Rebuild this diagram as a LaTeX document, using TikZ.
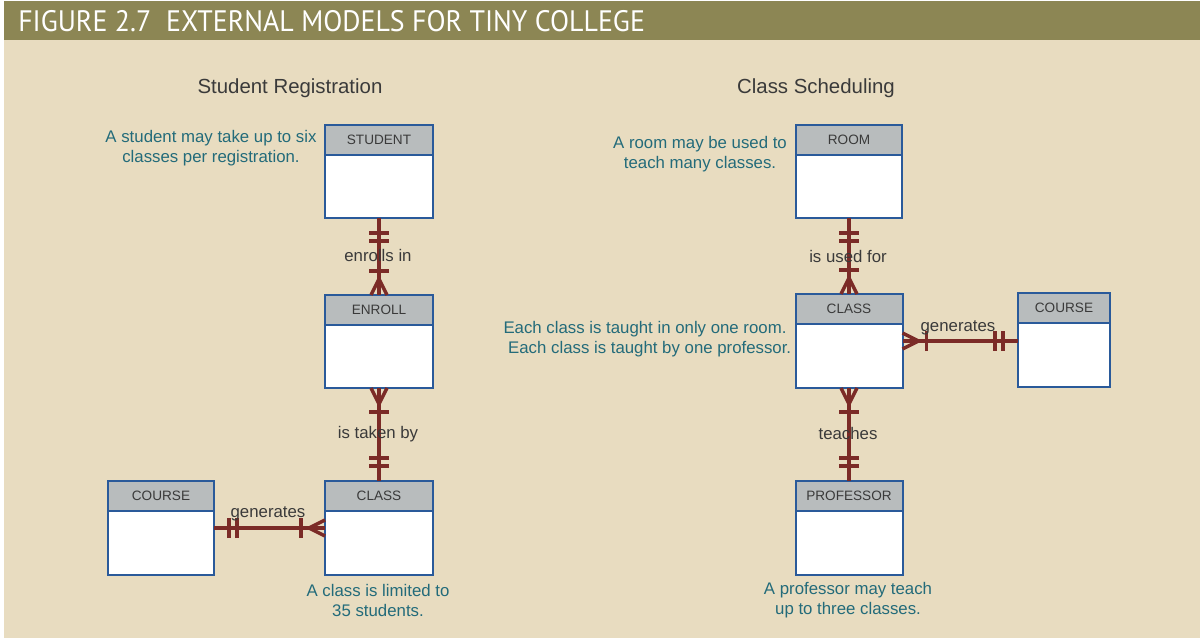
\documentclass[tikz,border=0pt]{standalone}
\usepackage{fontspec}
\setmainfont{Liberation Sans}
\newfontfamily\hdrfont{PT Sans}
\usetikzlibrary{calc}
\definecolor{band}{HTML}{8C8654}
\definecolor{beige}{HTML}{E8DCC0}
\definecolor{hdrgray}{HTML}{B8BCBD}
\definecolor{entblue}{HTML}{2A5A9A}
\definecolor{relred}{HTML}{7B2B27}
\definecolor{noteteal}{HTML}{236B7A}
\definecolor{txtgray}{HTML}{3A3A3A}
\tikzset{
  entbox/.style={draw=entblue, line width=1.5pt, fill=white, inner sep=0pt, outer sep=0pt},
  entname/.style={text=txtgray, font=\fontsize{10.2}{12}\selectfont, inner sep=0pt},
  rel/.style={draw=relred, line width=2.4pt},
  relmark/.style={draw=relred, line width=2.6pt},
  rellab/.style={text=txtgray, font=\fontsize{12.6}{15}\selectfont, inner sep=1pt},
  note/.style={text=noteteal, font=\fontsize{12.6}{15}\selectfont, align=center, inner sep=0pt},
  secttitle/.style={text=txtgray, font=\fontsize{15.3}{18}\selectfont, inner sep=0pt}
}
% entity: name, cx, cy, w, h, label
\newcommand\ent[6]{%
  \node[entbox, minimum width=#4*0.75pt, minimum height=#5*0.75pt] (#1) at (#2,#3) {};
  \fill[hdrgray] (#1.north west) rectangle ($(#1.north east)+(0,30)$);
  \draw[entblue, line width=1.5pt] ($(#1.north west)+(0,30)$) -- ($(#1.north east)+(0,30)$);
  \draw[entblue, line width=1.5pt] (#1.north west) rectangle (#1.south east);
  \node[entname] (#1-t) at ($(#1.north)+(0,15)$) {#6};
}
% bar across the connector: anchor, ux, uy, distance
\newcommand\mbar[4]{%
  \draw[relmark] ($(#1)+({#2*#4-#3*10},{#3*#4+#2*10})$) -- ($(#1)+({#2*#4+#3*10},{#3*#4-#2*10})$);}
% one and only one
\newcommand\oneone[3]{\mbar{#1}{#2}{#3}{15}\mbar{#1}{#2}{#3}{23}}
% one or many (crow's foot + bar)
\newcommand\onemany[3]{%
  \draw[relmark, line join=round] ($(#1)+({-#3*8},{#2*8})$) -- ($(#1)+({#2*16},{#3*16})$) -- ($(#1)+({#3*8},{-#2*8})$);
  \mbar{#1}{#2}{#3}{24}}
\begin{document}
\begin{tikzpicture}[x=0.75pt, y=-0.75pt]
\useasboundingbox (0,0) rectangle (1200,638);
\fill[white] (0,0) rectangle (1200,638);
\fill[beige] (4,40) rectangle (1200,638);
\fill[band] (4,1) rectangle (1200,40);
\node[anchor=base west, inner sep=0pt, text=white] (fig) at (18,32)
  {\resizebox{470pt}{15.8pt}{\hdrfont FIGURE 2.7\ \ EXTERNAL MODELS FOR TINY COLLEGE}};

\node[secttitle] (t1) at (290,88) {Student Registration};
\node[secttitle] (t2) at (816,88) {Class Scheduling};

% entities
\ent{student}{379}{171.5}{108}{93}{STUDENT}
\ent{enroll}{379}{341.5}{108}{93}{ENROLL}
\ent{lclass}{379}{528}{108}{94}{CLASS}
\ent{lcourse}{161}{528}{106}{94}{COURSE}
\ent{room}{849}{171.5}{106}{93}{ROOM}
\ent{rclass}{849}{341}{107}{94}{CLASS}
\ent{rcourse}{1064}{340}{92}{94}{COURSE}
\ent{prof}{849}{528}{107}{94}{PROFESSOR}

% relationships
\draw[rel] (student.south) -- (enroll.north);
\oneone{student.south}{0}{1}
\onemany{enroll.north}{0}{-1}
\node[rellab] (l1) at (378,255) {enrolls in};

\draw[rel] (enroll.south) -- (lclass.north);
\onemany{enroll.south}{0}{1}
\oneone{lclass.north}{0}{-1}
\node[rellab] (l2) at (378,434) {is taken by};

\draw[rel] (lcourse.east) -- (lclass.west);
\oneone{lcourse.east}{1}{0}
\onemany{lclass.west}{-1}{0}
\node[rellab] (l3) at (268,514) {generates};

\draw[rel] (room.south) -- (rclass.north);
\oneone{room.south}{0}{1}
\onemany{rclass.north}{0}{-1}
\node[rellab] (l4) at (848,256) {is used for};

\coordinate (rce) at (rcourse.west |- rclass.east);
\draw[rel] (rclass.east) -- (rce);
\onemany{rclass.east}{1}{0}
\oneone{rce}{-1}{0}
\node[rellab] (l5) at (958,328) {generates};

\draw[rel] (rclass.south) -- (prof.north);
\onemany{rclass.south}{0}{1}
\oneone{prof.north}{0}{-1}
\node[rellab] (l6) at (848,433) {teaches};

% notes
\node[note] (n1) at (211,148) {A student may take up to six\\classes per registration.};
\node[note] (n2) at (700,154.5) {A room may be used to\\teach many classes.};
\node[note] (n3) at (645,339) {Each class is taught in only one room.\\\ \ Each class is taught by one professor.};
\node[note] (n4) at (378,600) {A class is limited to\\35 students.};
\node[note] (n5) at (848,600) {A professor may teach\\up to three classes.};
\end{tikzpicture}
\end{document}
